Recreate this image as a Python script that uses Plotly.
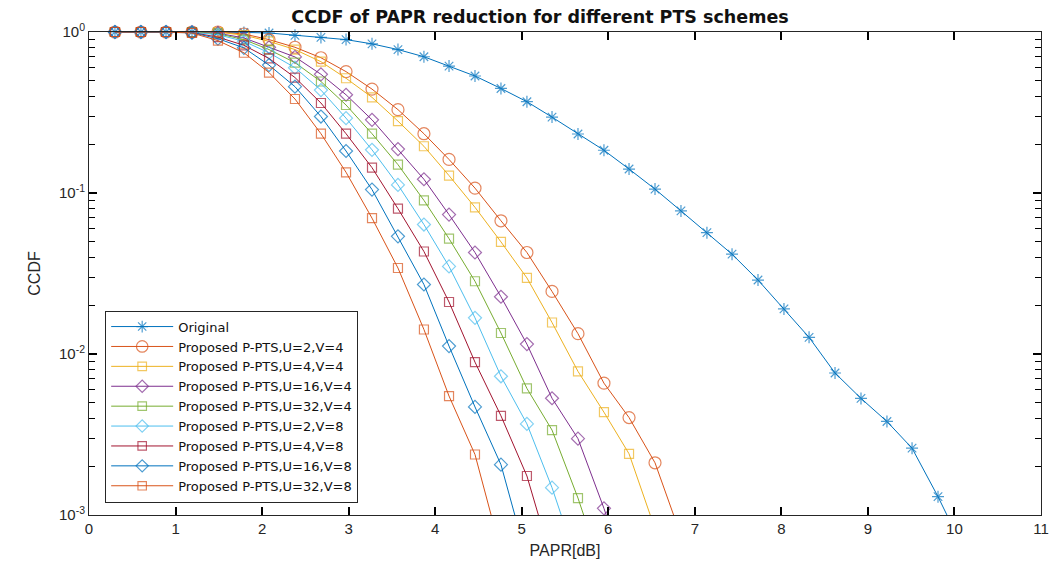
import plotly.graph_objects as go

# PAPR thresholds (dB) at which the CCDF was evaluated
papr_db = [0.30, 0.60, 0.89, 1.19, 1.49, 1.79, 2.08, 2.38, 2.68, 2.97,
           3.27, 3.57, 3.87, 4.16, 4.46, 4.76, 5.06, 5.35, 5.65, 5.95,
           6.24, 6.54, 6.84, 7.14, 7.43, 7.73, 8.03, 8.32, 8.62, 8.92,
           9.22, 9.51, 9.81, 10.11]

ccdf_original = [1.0, 1.0, 1.0, 1.0, 0.999, 0.994, 0.986, 0.953, 0.926, 0.897,
                 0.844, 0.778, 0.702, 0.614, 0.533, 0.446, 0.369, 0.296, 0.2325, 0.1843,
                 0.1409, 0.1057, 0.0774, 0.0567, 0.0417, 0.0288, 0.01905, 0.01269, 0.00762, 0.0053,
                 0.00381, 0.0026, 0.0013, 0.000606]
ccdf_u2_v4 = [1.0, 1.0, 1.0, 1.0, 1.0, 0.972, 0.897, 0.804, 0.692, 0.5675,
              0.4418, 0.3295, 0.2335, 0.1616, 0.1072, 0.0672, 0.0427, 0.02447, 0.01337, 0.00659,
              0.00403, 0.00211, 0.000744]
ccdf_u4_v4 = [1.0, 1.0, 1.0, 1.0, 0.997, 0.956, 0.875, 0.778, 0.654, 0.516,
              0.3927, 0.2796, 0.1951, 0.1283, 0.0815, 0.0497, 0.02968, 0.01569, 0.0078, 0.00435,
              0.0024, 0.000821]
ccdf_u16_v4 = [1.0, 1.0, 1.0, 0.998, 0.983, 0.9185, 0.804, 0.70, 0.546, 0.4075,
               0.2848, 0.1875, 0.1217, 0.0734, 0.0427, 0.02267, 0.01152, 0.00531, 0.00298, 0.0011,
               0.000379]
ccdf_u32_v4 = [1.0, 1.0, 1.0, 0.997, 0.976, 0.897, 0.778, 0.645, 0.4926, 0.352,
               0.2335, 0.15, 0.09005, 0.05206, 0.0283, 0.0135, 0.00611, 0.00337, 0.001274, 0.000422]
ccdf_u2_v8 = [1.0, 1.0, 1.0, 0.995, 0.9625, 0.875, 0.743, 0.6006, 0.4355, 0.2917,
              0.1854, 0.1123, 0.0637, 0.035, 0.01677, 0.00727, 0.00368, 0.001478, 0.00049]
ccdf_u4_v8 = [1.0, 1.0, 1.0, 0.993, 0.929, 0.827, 0.685, 0.5214, 0.3622, 0.2335,
              0.1437, 0.0799, 0.04331, 0.02103, 0.0089, 0.00413, 0.001747, 0.000515]
ccdf_u16_v8 = [1.0, 1.0, 1.0, 0.99, 0.909, 0.797, 0.623, 0.4575, 0.2985, 0.1823,
               0.105, 0.0538, 0.02702, 0.0112, 0.00469, 0.002054, 0.000533]
ccdf_u32_v8 = [1.0, 1.0, 1.0, 0.986, 0.884, 0.743, 0.5597, 0.3835, 0.2335, 0.1345,
               0.0698, 0.0342, 0.0142, 0.00548, 0.002375, 0.00059]

series_names = ["Original",
                "Proposed P-PTS,U=2,V=4", "Proposed P-PTS,U=4,V=4",
                "Proposed P-PTS,U=16,V=4", "Proposed P-PTS,U=32,V=4",
                "Proposed P-PTS,U=2,V=8", "Proposed P-PTS,U=4,V=8",
                "Proposed P-PTS,U=16,V=8", "Proposed P-PTS,U=32,V=8"]
series_values = [ccdf_original, ccdf_u2_v4, ccdf_u4_v4, ccdf_u16_v4, ccdf_u32_v4,
                 ccdf_u2_v8, ccdf_u4_v8, ccdf_u16_v8, ccdf_u32_v8]

x_ticks = list(range(0, 12))
y_tickvals = [1, 0.1, 0.01, 0.001]
y_ticktext = ["10<sup>0</sup>", "10<sup>-1</sup>", "10<sup>-2</sup>", "10<sup>-3</sup>"]
y_minor_tickvals = [m * d for d in (0.001, 0.01, 0.1) for m in range(2, 10)]

# styles
colors = ["#0072BD", "#D95319", "#EDB120", "#7E2F8E", "#77AC30",
          "#4DBEEE", "#A2142F", "#0072BD", "#D95319"]
symbols = ["asterisk-open", "circle-open", "square-open", "diamond-open", "square-open",
           "diamond-open", "square-open", "diamond-open", "square-open"]
sizes = [10, 12, 9, 10, 9, 10, 9, 10, 9]

fig = go.Figure()
for name, vals, c, s, sz in zip(series_names, series_values, colors, symbols, sizes):
    xs = papr_db[:len(vals)]
    msize = [sz if v >= 0.001 else 0 for v in vals]
    fig.add_trace(go.Scatter(
        x=xs, y=vals, name=name, mode="lines+markers",
        line=dict(color=c, width=1),
        marker=dict(symbol=s, size=msize, color=c, line=dict(color=c, width=1.2)),
        cliponaxis=False,
    ))

axis_color = "#262626"
tick_color = "#000000"
font_family = "Liberation Sans, Arial, sans-serif"

fig.update_layout(
    width=1061, height=568,
    margin=dict(l=89, r=12, t=32, b=48),
    paper_bgcolor="white", plot_bgcolor="white",
    font=dict(family=font_family, color="#262626", size=15),
    title=dict(text="<b>CCDF of PAPR reduction for different PTS schemes</b>",
               x=540 / 1061, xref="container", xanchor="center",
               y=1 - 17 / 568, yref="container", yanchor="middle",
               font=dict(size=17.5, color="#111111", family="DejaVu Sans, sans-serif")),
    showlegend=True,
    legend=dict(x=0.017, y=(519.5 - 507) / 487.2, xanchor="left", yanchor="bottom",
                bgcolor="white", bordercolor=axis_color, borderwidth=1,
                font=dict(size=13, family="DejaVu Sans, sans-serif", color="#111111"),
                tracegroupgap=0, itemwidth=62),
)

fig.update_xaxes(
    range=[0, 11], tickvals=x_ticks, ticks="inside", ticklen=8, tickwidth=1.5,
    tickcolor=tick_color, showline=True, linecolor=axis_color, linewidth=1,
    mirror="ticks", showgrid=False, zeroline=False, layer="above traces",
    title=dict(text="PAPR[dB]", standoff=8, font=dict(size=16)),
    tickfont=dict(size=15),
)
fig.update_yaxes(
    type="log", range=[-3, 0], tickvals=y_tickvals, ticktext=y_ticktext,
    ticks="inside", ticklen=8, tickwidth=1.5, tickcolor=tick_color,
    showline=True, linecolor=axis_color, linewidth=1, mirror="ticks",
    showgrid=False, zeroline=False, layer="above traces",
    minor=dict(ticks="inside", ticklen=6, tickmode="array", tickvals=y_minor_tickvals,
               tickcolor=tick_color, tickwidth=1.2, showgrid=False),
    title=dict(text="CCDF", standoff=14, font=dict(size=16)),
    tickfont=dict(size=15),
)

fig.write_html("out.html", config={"displayModeBar": False},
               post_script="document.body.style.margin='0';")
